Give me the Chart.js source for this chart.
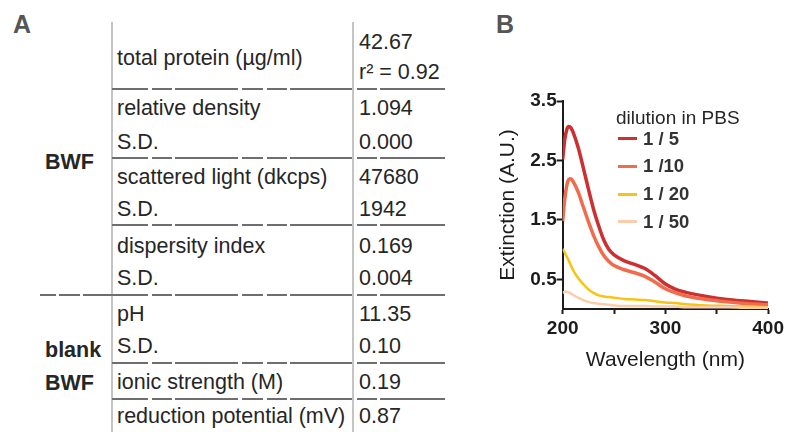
<!DOCTYPE html>
<html lang="en">
<head>
  <meta charset="UTF-8">
  <title>BWF characterisation</title>
  <script src="https://cdn.jsdelivr.net/npm/chart.js"></script>
  <style>
    body {
      margin: 0;
      background: #fff;
      font-family: "Liberation Sans", Arial, Helvetica, sans-serif;
      color: #262626;
    }
    #page {
      position: relative;
      width: 787px;
      height: 432px;
      overflow: hidden;
    }
    .txt {
      position: absolute;
      white-space: nowrap;
      font-size: 21.5px;
      line-height: 24px;
      height: 24px;
    }
    .bold { font-weight: bold; }
    .panel {
      position: absolute;
      font-size: 25px;
      font-weight: bold;
      color: #555;
      line-height: 28px;
    }
    .vline {
      position: absolute;
      width: 2px;
      background: #c4c4c4;
    }
    .seg {
      position: absolute;
      height: 2px;
      background: #6e6e6e;
    }
    .key {
      position: absolute;
      height: 3px;
    }
    #chartBox {
      position: absolute;
      left: 490px;
      top: 0;
    }
  </style>
</head>
<body>
<div id="page">
  <div class="panel" style="left:13px; top:10px;">A</div>
  <div class="panel" style="left:496px; top:10px;">B</div>
  <canvas id="chartBox" width="297" height="432"></canvas>
</div>

<script>
  // ---- panel A: table ----
  const paramNames = ['total protein (µg/ml)', 'relative density', 'S.D.', 'scattered light (dkcps)', 'S.D.',
                      'dispersity index', 'S.D.', 'pH', 'S.D.', 'ionic strength (M)', 'reduction potential (mV)'];
  const paramValues = ['42.67', '1.094', '0.000', '47680', '1942', '0.169', '0.004', '11.35', '0.10', '0.19', '0.87'];
  const fitNote = 'r² = 0.92';
  const groupNames = ['BWF', 'blank', 'BWF'];

  // ---- panel B: spectra ----
  const wavelengths = [200, 202, 204, 206, 208, 210, 215, 220, 225, 230, 235, 240, 245, 250,
                       260, 270, 280, 290, 300, 310, 320, 340, 360, 380, 400];
  const dil5  = [2.52, 2.85, 3.02, 3.07, 3.05, 2.98, 2.72, 2.38, 2.02, 1.68, 1.40, 1.16, 1.00, 0.91,
                 0.81, 0.75, 0.68, 0.56, 0.42, 0.33, 0.28, 0.21, 0.16, 0.13, 0.10];
  const dil10 = [1.48, 1.85, 2.08, 2.18, 2.19, 2.15, 1.97, 1.72, 1.47, 1.24, 1.05, 0.90, 0.80, 0.73,
                 0.66, 0.61, 0.55, 0.45, 0.34, 0.27, 0.22, 0.16, 0.12, 0.09, 0.07];
  const dil20 = [1.01, 0.95, 0.88, 0.81, 0.73, 0.66, 0.52, 0.42, 0.33, 0.27, 0.23, 0.21, 0.20, 0.19,
                 0.17, 0.16, 0.15, 0.13, 0.11, 0.10, 0.08, 0.06, 0.05, 0.04, 0.03];
  const dil50 = [0.27, 0.29, 0.29, 0.28, 0.26, 0.24, 0.19, 0.15, 0.12, 0.10, 0.09, 0.08, 0.07, 0.06,
                 0.05, 0.05, 0.05, 0.04, 0.04, 0.04, 0.03, 0.03, 0.03, 0.02, 0.02];
  const seriesLabels = ['1 / 5', '1 /10', '1 / 20', '1 / 50'];
  const seriesColors = ['#cc3030', '#f16c4c', '#f8c312', '#fbcdab'];
  const coreColors = ['#e77a72', '#f9a68c', null, null];   // lighter centre of the two thick traces
  const legendTitle = 'dilution in PBS';
  const xTicks = [200, 250, 300, 350, 400];
  const xTickLabels = [200, 300, 400];
  const yTicks = [0.5, 1.5, 2.5, 3.5];

  const page = document.getElementById('page');
  function put(cls, left, top, text, extra) {
    const d = document.createElement('div');
    d.className = cls;
    d.style.left = left + 'px';
    d.style.top = top + 'px';
    if (text !== undefined) d.textContent = text;
    if (extra) Object.assign(d.style, extra);
    page.appendChild(d);
    return d;
  }

  // table layout
  const rowY = [58, 108, 142, 177, 209, 246, 278, 314, 346, 382, 416];
  const groupY = [162, 350, 383];
  const sepY = [89, 158, 225, 295, 363, 399];
  const segs = [[112, 148], [152, 172], [175, 238], [242, 263], [267, 287], [290, 352], [357, 377], [380, 445]];
  const leftSegs = [[40, 56], [59, 80], [83, 112]];

  paramNames.forEach((name, i) => {
    put('txt', 117, rowY[i] - 12, name);
    if (i === 0) {
      put('txt', 359, 42 - 12, paramValues[i]);
      put('txt', 359, 72 - 12, fitNote);
    } else {
      put('txt', 359, rowY[i] - 12, paramValues[i]);
    }
  });
  groupNames.forEach((g, i) => put('txt bold', 45, groupY[i] - 12, g));

  [112, 353].forEach(x => put('vline', x - 1, 22, undefined, { height: '410px' }));
  sepY.forEach((y, k) => {
    const list = k === 3 ? leftSegs.concat(segs) : segs;
    list.forEach(s => put('seg', s[0], y - 1, undefined, { width: (s[1] - s[0]) + 'px' }));
  });

  // legend (html, built from the series arrays)
  put('txt', 616, 118 - 12, legendTitle, { fontSize: '19px' });
  seriesLabels.forEach((lab, i) => {
    const y = 138.5 + i * 27.8;
    put('key', 618, y - 1.5, undefined, { width: '19px', background: seriesColors[i] });
    put('txt bold', 643, y - 12, lab, { fontSize: '18.5px', color: '#333' });
  });

  // chart
  const tickFont = { family: '"Liberation Sans", Arial, sans-serif', size: 19, weight: 'bold' };
  const titleFont = { family: '"Liberation Sans", Arial, sans-serif', size: 21 };
  const ink = '#1c1c1c';

  const allSeries = [dil5, dil10, dil20, dil50];
  const datasets = [];
  for (let i = allSeries.length - 1; i >= 0; i--) {
    const pts = wavelengths.map((w, j) => ({ x: w, y: allSeries[i][j] }));
    datasets.push({
      label: seriesLabels[i],
      data: pts,
      borderColor: seriesColors[i],
      borderWidth: coreColors[i] ? 3.5 : 2.5,
      pointRadius: 0,
      cubicInterpolationMode: 'monotone',
      fill: false
    });
    if (coreColors[i]) {
      datasets.push({
        label: seriesLabels[i] + ' core',
        data: pts,
        borderColor: coreColors[i],
        borderWidth: 1,
        pointRadius: 0,
        cubicInterpolationMode: 'monotone',
        fill: false
      });
    }
  }

  new Chart(document.getElementById('chartBox'), {
    type: 'line',
    data: { datasets: datasets },
    options: {
      responsive: false,
      animation: false,
      layout: { padding: { top: 101, right: 18, bottom: 59, left: 0 } },
      plugins: { legend: { display: false }, tooltip: { enabled: false } },
      scales: {
        x: {
          type: 'linear',
          min: 200,
          max: 400,
          afterBuildTicks: s => { s.ticks = xTicks.map(v => ({ value: v })); },
          afterFit: s => { s.height = 64; },
          ticks: {
            autoSkip: false,
            maxRotation: 0,
            padding: 3,
            color: ink,
            font: tickFont,
            callback: v => xTickLabels.includes(v) ? String(v) : ''
          },
          grid: { drawOnChartArea: false, drawTicks: true, tickLength: 5, tickColor: ink, tickWidth: 2 },
          border: { display: true, color: ink, width: 2 },
          title: { display: true, text: 'Wavelength (nm)', color: ink, font: titleFont, padding: 0 }
        },
        y: {
          min: 0,
          max: 3.5,
          afterBuildTicks: s => { s.ticks = yTicks.map(v => ({ value: v })); },
          afterFit: s => { s.width = 72.7; },
          ticks: {
            padding: 0,
            color: ink,
            font: tickFont,
            callback: v => v.toFixed(1)
          },
          grid: { drawOnChartArea: false, drawTicks: true, tickLength: 6, tickColor: ink, tickWidth: 2 },
          border: { display: true, color: ink, width: 2 },
          title: { display: true, text: 'Extinction (A.U.)', color: ink, font: titleFont, padding: { top: 5.4, bottom: 0 } }
        }
      }
    }
  });
</script>
</body>
</html>
